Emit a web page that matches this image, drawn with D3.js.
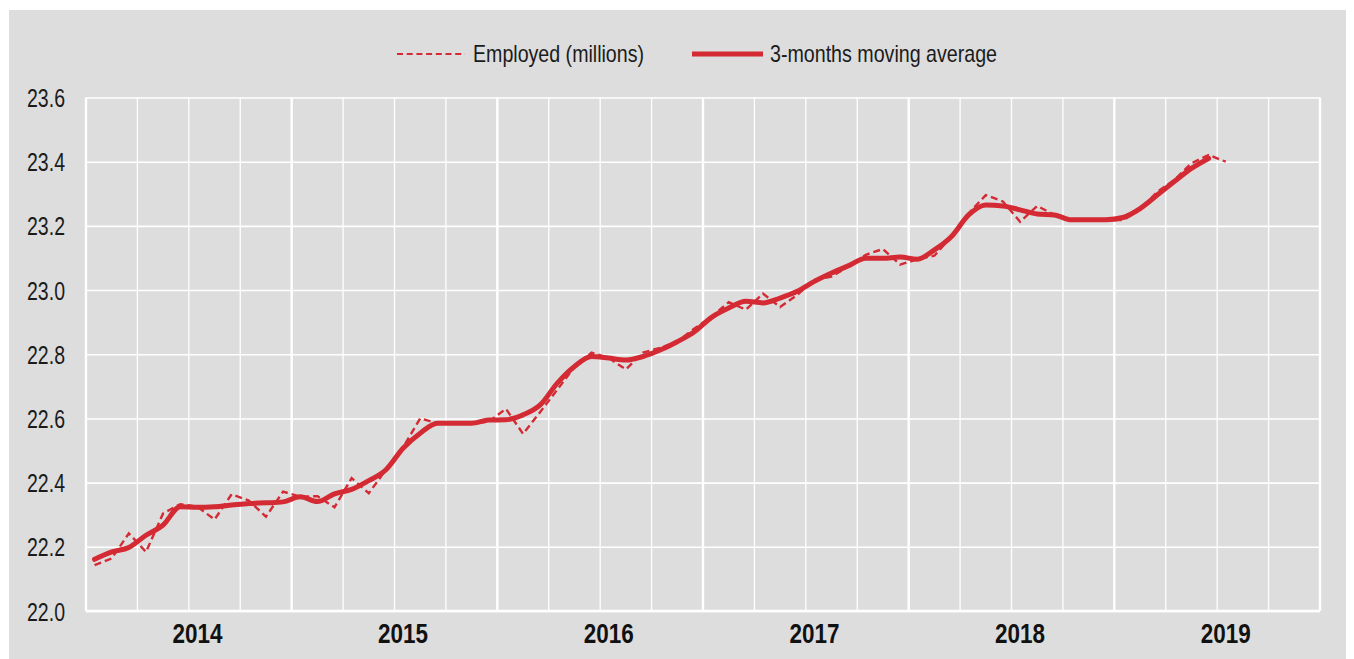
<!DOCTYPE html>
<html>
<head>
<meta charset="utf-8">
<script src="https://cdn.jsdelivr.net/npm/d3@7/dist/d3.min.js"></script>
<style>
  html, body { margin: 0; padding: 0; background: #ffffff; }
  svg { display: block; }
  text { font-family: "Liberation Sans Narrow", "Arial Narrow", "Liberation Sans", Arial, sans-serif; }
</style>
</head>
<body>
<svg id="chart" width="1354" height="659"></svg>
<script>
// ---------------- data ----------------
const years = ["2014", "2015", "2016", "2017", "2018", "2019"];
const monthsPerYear = 12;

// Employed (millions), monthly
const employed = [
  22.143, 22.164, 22.242, 22.184, 22.304, 22.333, 22.325, 22.285, 22.364, 22.344, 22.294, 22.372,
  22.356, 22.358, 22.323, 22.414, 22.367, 22.440, 22.510, 22.600, 22.585, 22.585, 22.585, 22.590,
  22.630, 22.552, 22.620, 22.690, 22.760, 22.805, 22.788, 22.753, 22.805, 22.820, 22.840, 22.880,
  22.917, 22.962, 22.939, 22.989, 22.947, 22.985, 23.032, 23.042, 23.074, 23.110, 23.128, 23.079,
  23.096, 23.107, 23.167, 23.239, 23.296, 23.276, 23.213, 23.262, 23.234, 23.219, 23.217, 23.219,
  23.218, 23.250, 23.306, 23.343, 23.395, 23.421, 23.400
];

// 3-months moving average
const movingAvg = [
  22.161, 22.184, 22.198, 22.236, 22.268, 22.325, 22.323, 22.325, 22.330, 22.335, 22.337, 22.340,
  22.356, 22.341, 22.365, 22.379, 22.406, 22.440, 22.507, 22.554, 22.585, 22.585, 22.585, 22.595,
  22.596, 22.611, 22.642, 22.710, 22.762, 22.793, 22.788, 22.782, 22.793, 22.813, 22.839, 22.870,
  22.915, 22.944, 22.965, 22.960, 22.975, 22.996, 23.027, 23.053, 23.076, 23.099, 23.099, 23.103,
  23.096, 23.125, 23.167, 23.234, 23.265, 23.262, 23.250, 23.237, 23.234, 23.219, 23.219, 23.219,
  23.226, 23.254, 23.296, 23.338, 23.379, 23.410
];

const yTicks = [22.0, 22.2, 22.4, 22.6, 22.8, 23.0, 23.2, 23.4, 23.6];
const seriesNames = ["Employed (millions)", "3-months moving average"];

// ---------------- layout ----------------
const W = 1354, H = 659;
const plot = { left: 86, right: 1320, top: 97.5, bottom: 611 };
const red = "#d42a33";
const textCol = "#1b1b1b";

const months = [];
years.forEach(y => { for (let m = 1; m <= monthsPerYear; m++) months.push(y + "-" + String(m).padStart(2, "0")); });

const x = d3.scaleBand().domain(months).range([plot.left, plot.right]).padding(0);
const xc = i => x(months[i]) + x.bandwidth() / 2;
const y = d3.scaleLinear().domain([22.0, 23.6]).range([plot.bottom, plot.top]);

const svg = d3.select("#chart");

// panel background
svg.append("rect").attr("x", 9).attr("y", 10).attr("width", 1337).attr("height", 649).attr("fill", "#dddddd");

// horizontal gridlines
const gy = svg.append("g")
  .attr("transform", `translate(${plot.left},0)`)
  .call(d3.axisLeft(y).tickValues(yTicks).tickSize(-(plot.right - plot.left)).tickFormat(d3.format(".1f")));
gy.select(".domain").remove();
gy.selectAll(".tick line").attr("stroke", "#ffffff").attr("stroke-width", 1.6);
gy.selectAll(".tick text")
  .attr("x", 65 - plot.left).attr("dy", null).attr("dominant-baseline", null)
  .attr("y", 9)
  .attr("text-anchor", "end")
  .attr("fill", textCol)
  .style("font-size", "25px")
  .attr("textLength", 38).attr("lengthAdjust", "spacingAndGlyphs");

// vertical gridlines (quarters and years)
const vlines = [];
for (let k = 0; k <= months.length; k += 3) vlines.push(k);
svg.append("g").selectAll("line").data(vlines).join("line")
  .attr("x1", k => k < months.length ? x(months[k]) : plot.right)
  .attr("x2", k => k < months.length ? x(months[k]) : plot.right)
  .attr("y1", plot.top).attr("y2", plot.bottom)
  .attr("stroke", "#ffffff")
  .attr("stroke-width", k => (k % 12 === 0) ? 2.4 : 1.3);

// bottom border
svg.append("line").attr("x1", plot.left).attr("x2", plot.right).attr("y1", plot.bottom).attr("y2", plot.bottom)
  .attr("stroke", "#ffffff").attr("stroke-width", 2.4);

// x labels (years) centred on the 7th month of each year
const gx = svg.append("g")
  .attr("transform", `translate(0,${plot.bottom})`)
  .call(d3.axisBottom(x).tickValues(years.map(yr => yr + "-07")).tickSize(0).tickFormat(d => d.slice(0, 4)));
gx.select(".domain").remove();
gx.selectAll(".tick text")
  .attr("y", 32).attr("dy", null)
  .attr("fill", "#111111")
  .style("font-size", "27px").style("font-weight", "bold")
  .attr("textLength", 50).attr("lengthAdjust", "spacingAndGlyphs");

// lines
const lineEmp = d3.line().x((d, i) => xc(i)).y(d => y(d)).curve(d3.curveLinear);
const lineMA = d3.line().x((d, i) => xc(i)).y(d => y(d)).curve(d3.curveMonotoneX);

svg.append("path").datum(movingAvg).attr("d", lineMA)
  .attr("fill", "none").attr("stroke", red).attr("stroke-width", 5).attr("stroke-linejoin", "round").attr("stroke-linecap", "round");
svg.append("path").datum(employed).attr("d", lineEmp)
  .attr("fill", "none").attr("stroke", red).attr("stroke-width", 2.4).attr("stroke-dasharray", "7,4");

// legend
const lg = svg.append("g");
lg.append("line").attr("x1", 397).attr("x2", 465).attr("y1", 54).attr("y2", 54)
  .attr("stroke", red).attr("stroke-width", 2).attr("stroke-dasharray", "6,3.7");
lg.append("text").attr("x", 473).attr("y", 62).text(seriesNames[0])
  .attr("fill", textCol).style("font-size", "24px")
  .attr("textLength", 171).attr("lengthAdjust", "spacingAndGlyphs");
lg.append("line").attr("x1", 692).attr("x2", 763).attr("y1", 54).attr("y2", 54)
  .attr("stroke", red).attr("stroke-width", 5);
lg.append("text").attr("x", 770).attr("y", 62).text(seriesNames[1])
  .attr("fill", textCol).style("font-size", "24px")
  .attr("textLength", 227).attr("lengthAdjust", "spacingAndGlyphs");
</script>
</body>
</html>
